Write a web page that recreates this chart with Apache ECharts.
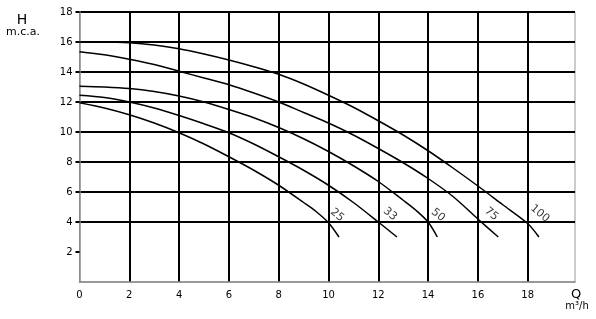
<!DOCTYPE html>
<html>
<head>
<meta charset="utf-8">
<script src="https://cdn.jsdelivr.net/npm/echarts@6/dist/echarts.min.js"></script>
<style>html,body{margin:0;padding:0;background:#fff}#c{width:596px;height:319px}</style>
</head>
<body>
<div id="c"></div>
<script>
// Flow Q (m³/h), head H (m.c.a.)
const curve25 = [[0,11.95],[1,11.6],[2,11.15],[3,10.6],[4,9.95],[5,9.2],[6,8.35],[7,7.45],[8,6.45],[9,5.3],[9.5,4.7],[10,3.95],[10.42,3.0]];
const curve33 = [[0,12.45],[1,12.3],[2,12.0],[3,11.6],[4,11.1],[5,10.55],[6,9.95],[7,9.2],[8,8.35],[9,7.45],[10,6.45],[11,5.3],[12,4.0],[12.75,3.0]];
const curve50 = [[0,13.05],[1,13.0],[2,12.9],[3,12.7],[4,12.4],[5,12.0],[6,11.5],[7,10.95],[8,10.3],[9,9.55],[10,8.7],[11,7.75],[12,6.7],[13,5.45],[13.5,4.8],[14,4.0],[14.37,3.0]];
const curve75 = [[0,15.35],[1,15.15],[2,14.85],[3,14.5],[4,14.05],[5,13.6],[6,13.15],[7,12.6],[8,12.0],[9,11.3],[10,10.6],[11,9.8],[12,8.9],[13,7.95],[14,6.9],[15,5.7],[16,4.2],[16.82,3.0]];
const curve100 = [[0,16.0],[1,16.0],[2,15.95],[3,15.8],[4,15.55],[5,15.2],[6,14.8],[7,14.35],[8,13.85],[9,13.2],[10,12.45],[11,11.65],[12,10.75],[13,9.8],[14,8.75],[15,7.6],[16,6.4],[17,5.15],[18,3.9],[18.45,3.0]];
const curveNames = ['25','33','50','75','100'];
const curveLabelPos = [[10.35,4.47],[12.47,4.53],[14.4,4.47],[16.54,4.53],[18.49,4.57]];
const xTicks = [0,2,4,6,8,10,12,14,16,18];
const yTicks = [2,4,6,8,10,12,14,16,18];

const curves = [curve25, curve33, curve50, curve75, curve100];
const FONT = 'DejaVu Sans, sans-serif';

const series = curves.map((d, i) => ({
  type: 'line', data: d, smooth: 0.3, showSymbol: false, symbol: 'none',
  lineStyle: {color: '#000', width: 1.5}, z: 5, silent: true
}));
series.push({
  type: 'scatter', symbolSize: 0, silent: true, z: 6,
  data: curveLabelPos.map((p, i) => ({value: p, name: curveNames[i]})),
  label: {show: true, position: 'inside', formatter: p => p.name, rotate: -40,
          color: '#000', fontSize: 11, fontFamily: FONT}
});

const chart = echarts.init(document.getElementById('c'), null, {renderer: 'canvas'});
chart.setOption({
  animation: false,
  backgroundColor: '#fff',
  grid: {left: 79.5, right: 21, top: 12, bottom: 37, show: true, borderColor: '#999', borderWidth: 1, backgroundColor: 'transparent'},
  xAxis: {
    type: 'value', min: 0, max: 19.9, interval: 2,
    axisLine: {show: true, onZero: false, lineStyle: {color: '#888', width: 1.5}},
    axisTick: {show: false},
    axisLabel: {color: '#000', fontSize: 10, fontFamily: FONT, margin: 8, customValues: xTicks},
    splitLine: {show: true, showMinLine: false, showMaxLine: false, lineStyle: {color: '#000', width: 2}}
  },
  yAxis: {
    type: 'value', min: 0, max: 18, interval: 2,
    axisLine: {show: true, onZero: false, lineStyle: {color: '#888', width: 1.5}},
    axisTick: {show: true, length: 4, customValues: yTicks, lineStyle: {color: '#000', width: 2}},
    axisLabel: {color: '#000', fontSize: 10, fontFamily: FONT, margin: 7, customValues: yTicks},
    splitLine: {show: true, showMinLine: false, lineStyle: {color: '#000', width: 2}}
  },
  graphic: [
    {type: 'text', x: 22, y: 20, style: {text: 'H', fontSize: 14, fontFamily: FONT, fill: '#000', align: 'center', verticalAlign: 'middle'}},
    {type: 'text', x: 23, y: 32, style: {text: 'm.c.a.', fontSize: 11, fontFamily: FONT, fill: '#000', align: 'center', verticalAlign: 'middle'}},
    {type: 'text', x: 576, y: 295, style: {text: 'Q', fontSize: 13, fontFamily: FONT, fill: '#000', align: 'center', verticalAlign: 'middle'}},
    {type: 'text', x: 577, y: 306, style: {text: 'm³/h', fontSize: 10, fontFamily: FONT, fill: '#000', align: 'center', verticalAlign: 'middle'}}
  ],
  series: series
});
</script>
</body>
</html>
